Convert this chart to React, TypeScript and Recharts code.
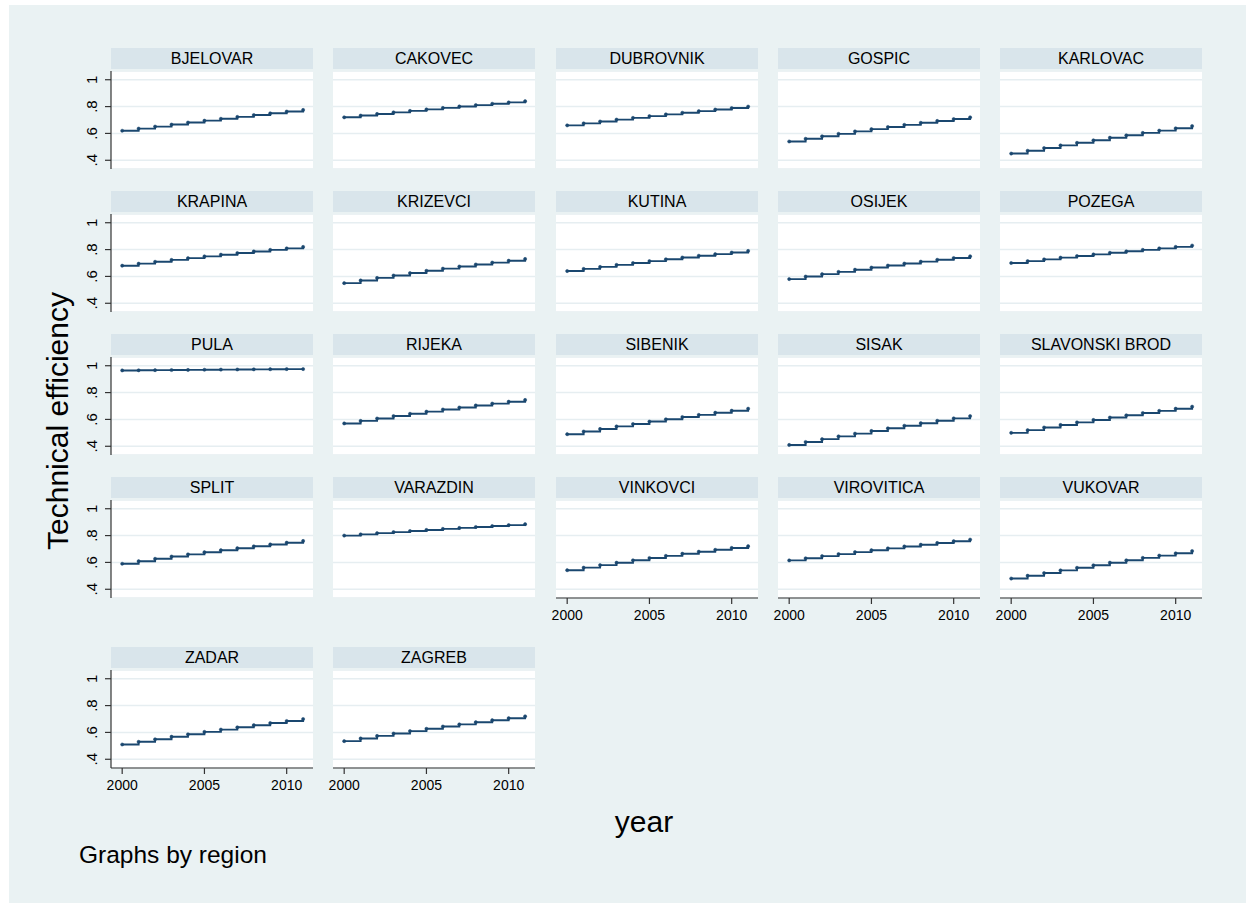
import React from "react";
import { LineChart, Line, XAxis, YAxis, CartesianGrid } from "recharts";

const years = [2000, 2001, 2002, 2003, 2004, 2005, 2006, 2007, 2008, 2009, 2010, 2011];
const yTicks = [0.4, 0.6, 0.8, 1];
const yTickLabels = [".4", ".6", ".8", "1"];
const xTicks = [2000, 2005, 2010];

const bjelovar = [0.62, 0.636, 0.651, 0.666, 0.681, 0.695, 0.709, 0.723, 0.737, 0.75, 0.763, 0.775];
const cakovec = [0.72, 0.733, 0.745, 0.757, 0.768, 0.779, 0.79, 0.801, 0.811, 0.821, 0.831, 0.84];
const dubrovnik = [0.66, 0.675, 0.689, 0.703, 0.716, 0.729, 0.742, 0.754, 0.766, 0.778, 0.789, 0.8];
const gospic = [0.54, 0.56, 0.579, 0.597, 0.615, 0.632, 0.648, 0.664, 0.679, 0.693, 0.707, 0.72];
const karlovac = [0.45, 0.471, 0.491, 0.511, 0.53, 0.549, 0.568, 0.586, 0.604, 0.621, 0.638, 0.655];
const krapina = [0.68, 0.695, 0.709, 0.723, 0.736, 0.749, 0.762, 0.774, 0.786, 0.798, 0.809, 0.82];
const krizevci = [0.55, 0.57, 0.589, 0.607, 0.625, 0.642, 0.658, 0.674, 0.689, 0.703, 0.717, 0.73];
const kutina = [0.64, 0.656, 0.671, 0.686, 0.7, 0.714, 0.728, 0.741, 0.754, 0.766, 0.778, 0.79];
const osijek = [0.58, 0.599, 0.617, 0.634, 0.65, 0.666, 0.681, 0.696, 0.71, 0.724, 0.737, 0.75];
const pozega = [0.7, 0.714, 0.727, 0.74, 0.752, 0.764, 0.776, 0.787, 0.798, 0.809, 0.82, 0.83];
const pula = [0.965, 0.966, 0.967, 0.968, 0.969, 0.97, 0.971, 0.972, 0.973, 0.974, 0.975, 0.975];
const rijeka = [0.57, 0.589, 0.607, 0.625, 0.642, 0.658, 0.674, 0.689, 0.704, 0.718, 0.732, 0.745];
const sibenik = [0.49, 0.51, 0.529, 0.548, 0.566, 0.584, 0.601, 0.618, 0.634, 0.65, 0.665, 0.68];
const sisak = [0.41, 0.432, 0.453, 0.474, 0.494, 0.514, 0.534, 0.553, 0.572, 0.59, 0.608, 0.625];
const slavonskiBrod = [0.5, 0.52, 0.54, 0.559, 0.578, 0.596, 0.614, 0.631, 0.648, 0.664, 0.68, 0.695];
const split = [0.59, 0.609, 0.627, 0.644, 0.66, 0.676, 0.691, 0.706, 0.72, 0.734, 0.747, 0.76];
const varazdin = [0.8, 0.809, 0.818, 0.826, 0.834, 0.842, 0.85, 0.857, 0.864, 0.871, 0.878, 0.885];
const vinkovci = [0.542, 0.561, 0.58, 0.598, 0.616, 0.633, 0.649, 0.665, 0.68, 0.694, 0.708, 0.721];
const virovitica = [0.615, 0.631, 0.647, 0.662, 0.677, 0.691, 0.705, 0.719, 0.732, 0.745, 0.758, 0.77];
const vukovar = [0.48, 0.501, 0.521, 0.541, 0.56, 0.579, 0.598, 0.616, 0.634, 0.651, 0.668, 0.685];
const zadar = [0.51, 0.53, 0.549, 0.568, 0.586, 0.604, 0.621, 0.638, 0.654, 0.67, 0.685, 0.7];
const zagreb = [0.535, 0.555, 0.574, 0.592, 0.61, 0.627, 0.644, 0.66, 0.676, 0.691, 0.706, 0.72];

const regions: [string, number[]][] = [
  ["BJELOVAR", bjelovar],
  ["CAKOVEC", cakovec],
  ["DUBROVNIK", dubrovnik],
  ["GOSPIC", gospic],
  ["KARLOVAC", karlovac],
  ["KRAPINA", krapina],
  ["KRIZEVCI", krizevci],
  ["KUTINA", kutina],
  ["OSIJEK", osijek],
  ["POZEGA", pozega],
  ["PULA", pula],
  ["RIJEKA", rijeka],
  ["SIBENIK", sibenik],
  ["SISAK", sisak],
  ["SLAVONSKI BROD", slavonskiBrod],
  ["SPLIT", split],
  ["VARAZDIN", varazdin],
  ["VINKOVCI", vinkovci],
  ["VIROVITICA", virovitica],
  ["VUKOVAR", vukovar],
  ["ZADAR", zadar],
  ["ZAGREB", zagreb],
];

const FONT = '"Liberation Sans", Arial, Helvetica, sans-serif';
const COL_X = [111, 333, 556, 778, 1000];
const ROW_HEAD = [48, 191, 334, 477, 647];
const PW = 202;
const HEAD_H = 21;
const PLOT_OFF = 23;
const PH = 98;
const YW = 40;
const PAD = 20;
const XH = 34;
const LINE = "#1a476f";

const YTick = (props: any) => {
  const { x, y, payload } = props;
  const i = yTicks.indexOf(payload.value);
  return (
    <text
      transform={`translate(${x - 6},${y}) rotate(-90)`}
      textAnchor="middle"
      fontSize={15}
      fontFamily={FONT}
      fill="#000"
    >
      {i >= 0 ? yTickLabels[i] : payload.value}
    </text>
  );
};

function Panel({ name, values, idx }: { name: string; values: number[]; idx: number }) {
  const col = idx % 5;
  const row = Math.floor(idx / 5);
  const showY = col === 0;
  const showX = idx + 5 >= regions.length;
  const data = years.map((yr, i) => ({ year: yr, te: values[i] }));
  const lead = showY ? YW : PAD;
  const left = COL_X[col] - lead;
  const top = ROW_HEAD[row] + PLOT_OFF;
  return (
    <>
      <div
        style={{
          position: "absolute",
          left: COL_X[col],
          top: ROW_HEAD[row],
          width: PW,
          height: HEAD_H,
          background: "#d9e5eb",
          fontFamily: FONT,
          fontSize: 16,
          lineHeight: `${HEAD_H}px`,
          textAlign: "center",
          color: "#000",
        }}
      >
        {name}
      </div>
      <div style={{ position: "absolute", left, top }}>
        <LineChart
          width={PW + lead + PAD}
          height={PH + (showX ? XH : 0)}
          data={data}
          margin={{ top: 0, right: PAD, bottom: 0, left: showY ? 0 : PAD }}
        >
          <CartesianGrid
            vertical={false}
            horizontal={true}
            stroke="#e6eef1"
            strokeWidth={1.5}
            fill="#ffffff"
            fillOpacity={1}
          />
          <XAxis
            dataKey="year"
            type="number"
            domain={[1999.32, 2011.6]}
            ticks={xTicks}
            hide={!showX}
            height={XH}
            tickSize={6}
            tickMargin={6}
            axisLine={{ stroke: "#333", strokeWidth: 1.2 }}
            tickLine={{ stroke: "#333", strokeWidth: 1.2 }}
            tick={{ fontSize: 14, fontFamily: FONT, fill: "#000" }}
            interval={0}
          />
          <YAxis
            type="number"
            domain={[0.335, 1.065]}
            ticks={yTicks}
            hide={!showY}
            width={YW}
            tickSize={6}
            tickMargin={2}
            axisLine={{ stroke: "#333", strokeWidth: 1.2 }}
            tickLine={{ stroke: "#333", strokeWidth: 1.2 }}
            tick={<YTick />}
            interval={0}
          />
          <Line
            type="stepAfter"
            dataKey="te"
            stroke={LINE}
            strokeWidth={1.9}
            dot={{ r: 1.6, fill: LINE, stroke: LINE, strokeWidth: 0.5 }}
            isAnimationActive={false}
          />
        </LineChart>
      </div>
    </>
  );
}

export default function App() {
  return (
    <div style={{ position: "absolute", left: 0, top: 0, width: 1246, height: 903, background: "#fff", overflow: "hidden" }}>
      <div style={{ position: "absolute", left: 9, top: 5, width: 1237, height: 898, background: "#eaf2f3" }} />
      <svg
        width={1246}
        height={903}
        style={{ position: "absolute", left: 0, top: 0, pointerEvents: "none" }}
      >
        <text
          transform="translate(68,421) rotate(-90)"
          textAnchor="middle"
          fontSize={30}
          fontFamily={FONT}
          fill="#000"
        >
          Technical efficiency
        </text>
        <text x={644} y={832} textAnchor="middle" fontSize={30} fontFamily={FONT} fill="#000">
          year
        </text>
        <text x={79} y={863} textAnchor="start" fontSize={24.5} fontFamily={FONT} fill="#000">
          Graphs by region
        </text>
      </svg>
      {regions.map(([name, values], idx) => (
        <Panel key={name} name={name} values={values} idx={idx} />
      ))}
    </div>
  );
}
